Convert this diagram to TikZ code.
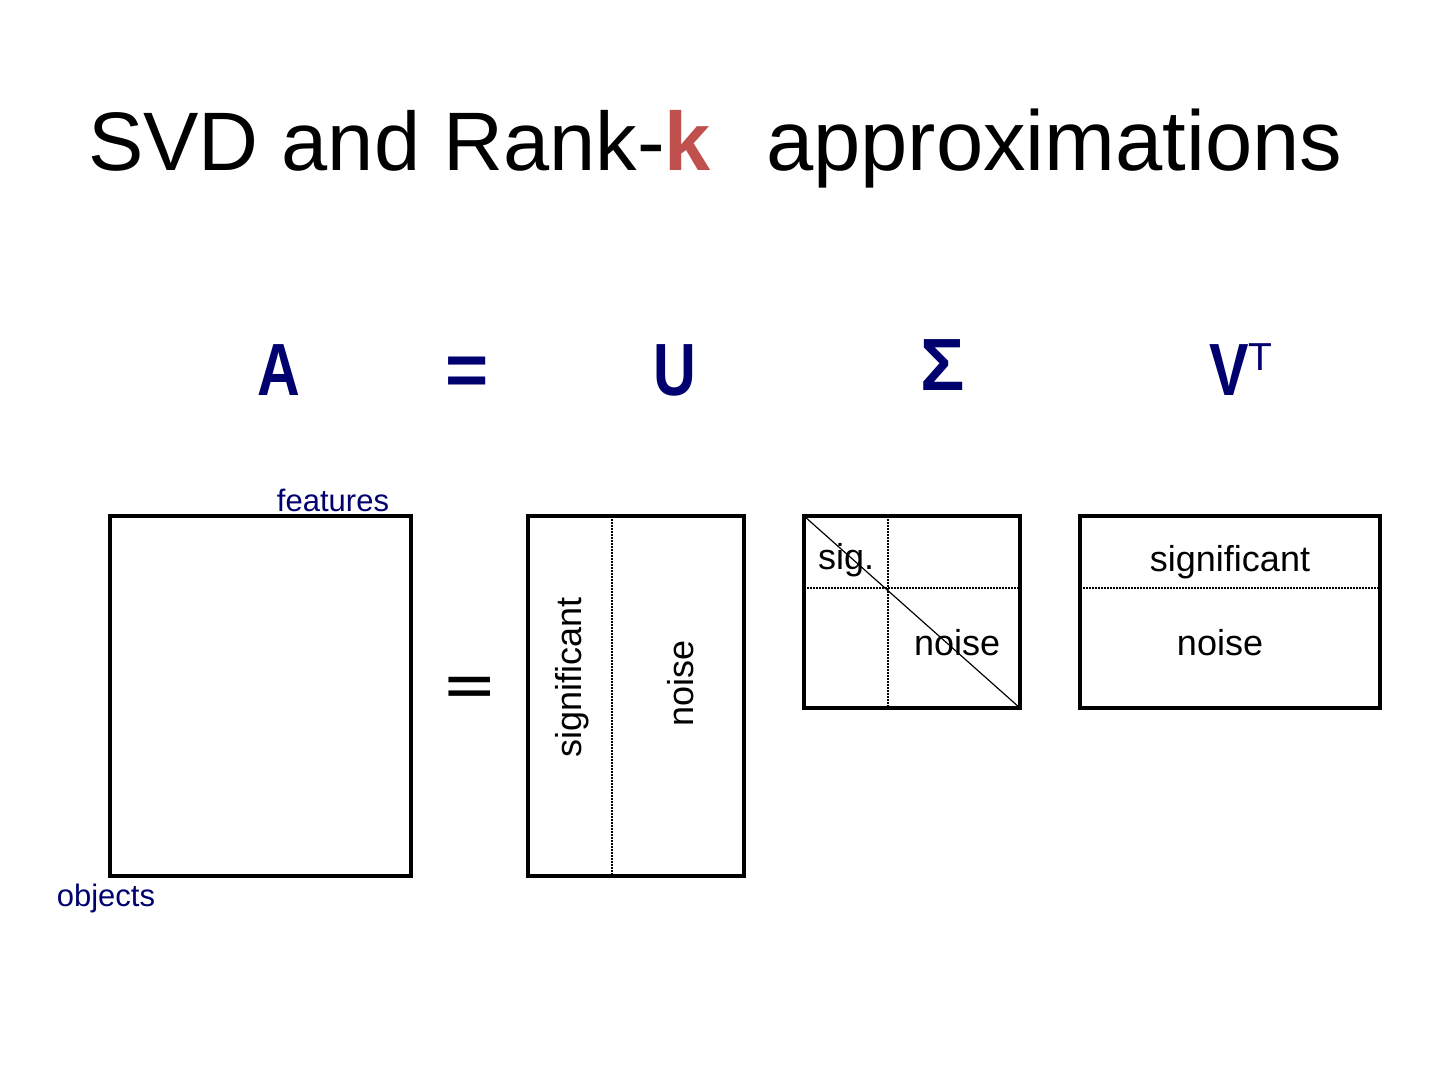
\documentclass[tikz,border=0pt]{standalone}
\usepackage{fontspec}
\setmainfont{Liberation Sans}
\usepackage{xcolor}
\definecolor{navy}{RGB}{0,0,110}
\definecolor{kred}{RGB}{192,80,77}

\begin{document}
\begin{tikzpicture}[x=1pt,y=-1pt,
  matbox/.style={draw, line width=3.5pt, inner sep=0pt, outer sep=0pt},
  sepline/.style={line width=1.5pt, dash pattern=on 1.5pt off 1.5pt},
  bigsym/.style={text=navy, font=\fontsize{74}{74}\selectfont\bfseries, inner sep=0pt, anchor=base},
  lbl/.style={font=\fontsize{36}{36}\selectfont, inner sep=0pt, anchor=base},
  dimlbl/.style={text=navy, font=\fontsize{31}{31}\selectfont, inner sep=0pt, anchor=base}]

\useasboundingbox (0,0) rectangle (1440,1080);

% Titre
\node[anchor=base west, inner sep=0pt, font=\fontsize{83}{83}\selectfont] (title) at (88,170)
  {SVD and Rank-{\color{kred}\bfseries k}\hspace{55pt}{\fontsize{85}{85}\selectfont approximations}};

% Ligne A = U Sigma V^T
\node[bigsym] (A) at (279,395) {\scalebox{0.8}[1]{A}};
\node[bigsym] (eqtop) at (467,395) {=};
\node[bigsym] (U) at (675,395) {\scalebox{0.8}[1]{U}};
\node[bigsym] (S) at (943,390) {Σ};
\node[bigsym] (V) at (1241,395) {\scalebox{0.8}[1]{V}\raisebox{25pt}{\mdseries\fontsize{39}{39}\selectfont T}};

% Matrice A
\node[matbox, minimum width=301pt, minimum height=360pt] (Abox) at (260.5,696) {};
\node[dimlbl] (feat) at (333,511) {features};
\node[dimlbl] (obj) at (106,906) {objects};

% Egal
\node[inner sep=0pt, font=\fontsize{72}{72}\selectfont\bfseries] (eq) at (470,690) {\scalebox{1.15}[0.7]{=}};

% Matrice U
\node[matbox, minimum width=216pt, minimum height=360pt] (Ubox) at (636,696) {};
\draw[sepline] (612,0 |- Ubox.north) -- (612,0 |- Ubox.south);
\node[lbl, rotate=90, anchor=center] (Usig) at (572,677) {significant};
\node[lbl, rotate=90, anchor=center] (Unoise) at (681,683) {noise};

% Matrice Sigma
\node[matbox, minimum width=216pt, minimum height=192pt] (Sbox) at (912,612) {};
\draw[sepline] (888,0 |- Sbox.north) -- (888,0 |- Sbox.south);
\draw[sepline] (Sbox.west |- 0,588) -- (Sbox.east |- 0,588);
\draw[line width=1.2pt] (Sbox.north west) -- (Sbox.south east);
\node[lbl, anchor=base west] (Ssig) at (818,569) {sig.};
\node[lbl, anchor=base west] (Snoise) at (914,655) {noise};

% Matrice V^T
\node[matbox, minimum width=300pt, minimum height=192pt] (Vbox) at (1230,612) {};
\draw[sepline] (Vbox.west |- 0,588) -- (Vbox.east |- 0,588);
\node[lbl] (Vsig) at (1230,571) {significant};
\node[lbl] (Vnoise) at (1220,655) {noise};

\end{tikzpicture}
\end{document}
